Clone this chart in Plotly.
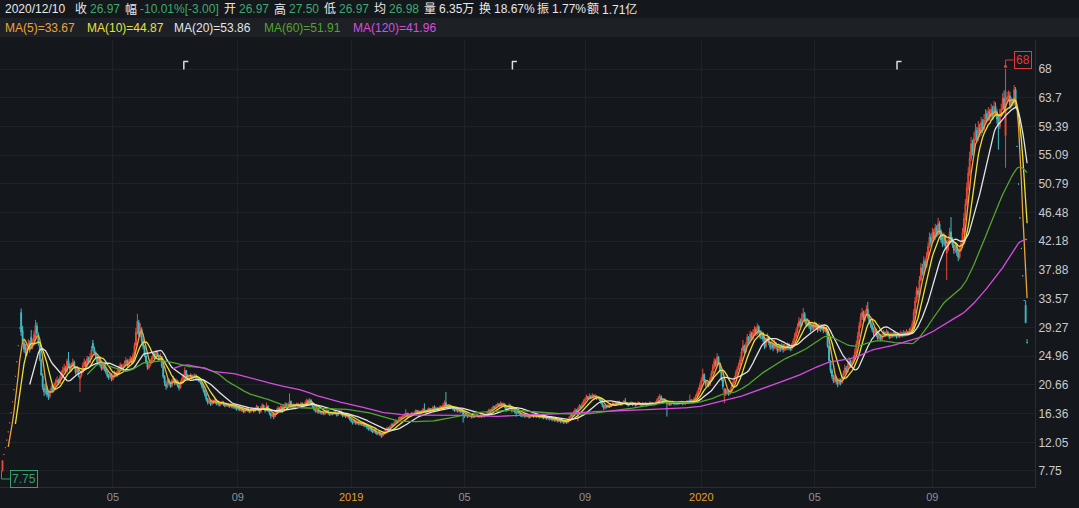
import pandas as pd
import plotly.graph_objects as go

# ---------------- data ----------------
close_2018 = [
    9.30, 10.23, 11.25, 12.38, 13.62, 14.98, 16.48, 18.13, 19.94, 21.93, 24.12, 26.53, 29.18, 28.60, 27.20, 26.00, 25.40, 26.30, 26.90, 25.90, 26.40, 27.00,
    28.2, 29.6, 28.4, 26.8, 24.5, 22.1, 20.3, 19.6, 20.4, 19.2, 18.9, 19.7, 20.2, 19.9, 20.7,
    21.1, 21.4, 20.9, 21.8, 22.4, 22.9, 23.2, 22.6, 24.2, 23.6, 22.9, 23.6, 24.1, 23.3, 22.5, 23.1, 22.1, 22.0, 22.6, 23.6, 24.1, 23.5,
    24.6, 24.0, 24.9, 25.9, 26.1, 25.4, 24.9, 24.0, 24.6, 23.6, 23.1, 23.8, 23.0, 22.6, 22.0, 21.8, 22.3, 21.5,
    21.9, 22.4, 22.0, 22.7, 23.1, 23.6, 23.0, 23.4, 23.9, 24.3, 23.6, 24.1, 24.6, 24.0, 25.1, 26.6, 28.6, 30.2, 28.3, 29.2, 27.2, 26.4,
    25.1, 24.1, 23.3, 23.6, 24.1, 24.7, 25.2, 24.8, 25.5, 25.0, 24.5, 25.0, 23.5, 21.9, 20.9, 20.4, 21.4, 21.0, 20.5, 21.2,
    21.6, 20.8, 21.3, 20.6, 20.2, 21.0, 21.5, 22.0, 22.8, 22.1, 21.5, 21.8, 22.1, 21.6, 21.9, 22.1, 21.5, 21.7, 21.2, 21.0, 20.4, 19.8,
    19.2, 18.5, 18.0, 18.3, 17.8, 18.2, 18.0, 18.4, 17.8, 18.0, 17.6, 17.9, 18.1, 17.7, 17.5, 17.8, 17.6, 17.4, 17.7, 17.3, 17.5, 17.2, 17.0,
    17.3, 16.9, 17.1, 16.8, 16.6, 16.9, 17.2, 16.8, 16.6, 16.9, 17.1, 16.7, 17.0, 17.4, 17.0, 16.6, 17.2, 17.6, 17.1,
    16.8, 17.5, 16.9, 16.4, 16.0, 16.3, 15.9, 16.4, 16.8, 17.2, 16.9, 17.4, 17.0, 17.5, 17.8, 17.3, 17.6, 18.2,
    17.6, 17.3, 17.7, 17.5, 17.8, 17.4, 17.6, 17.9, 17.5, 17.7, 18.0, 18.3, 18.1, 18.4, 18.0, 17.4, 17.0, 16.7, 16.9, 16.5, 16.7, 16.4,
    16.6, 16.3, 16.5, 16.8, 16.4, 16.2, 16.5, 16.3, 16.6, 16.4, 16.1, 16.4, 16.7, 16.3, 16.0, 16.2, 15.9, 16.1, 15.8, 15.5,
]
open_2018 = [
    7.75, 10.23, 11.25, 12.38, 13.62, 14.98, 16.48, 18.13, 19.94, 21.93, 24.12, 26.53, 29.18, 31.50, 28.80, 27.00, 26.20, 25.30, 26.20, 26.90, 27.80, 26.40,
    27.0, 28.0, 29.5, 28.2, 26.5, 24.4, 22.0, 20.2, 19.5, 20.3, 19.3, 18.9, 19.6, 20.3, 19.9,
    20.6, 21.0, 21.4, 20.9, 21.8, 22.4, 22.8, 23.2, 22.7, 24.3, 23.6, 22.9, 23.5, 24.1, 23.3, 22.5, 23.0, 21.6, 22.0, 22.6, 23.6, 24.1,
    23.5, 24.6, 24.0, 24.9, 26.9, 26.0, 25.4, 24.9, 24.0, 24.6, 23.6, 23.1, 23.8, 23.0, 22.6, 22.0, 21.8, 22.3,
    21.5, 21.9, 22.4, 22.0, 22.7, 23.1, 23.6, 23.0, 23.4, 23.9, 24.3, 23.6, 24.1, 24.6, 24.0, 25.1, 26.6, 28.5, 30.0, 28.3, 29.0, 27.2,
    26.4, 25.0, 24.1, 23.2, 23.6, 24.1, 24.7, 25.2, 24.8, 25.5, 25.0, 24.5, 24.9, 23.4, 21.9, 20.8, 20.4, 21.4, 21.0, 20.5,
    21.2, 21.5, 20.8, 21.3, 20.6, 20.2, 21.0, 21.5, 22.0, 22.8, 22.1, 21.5, 21.8, 22.1, 21.6, 21.9, 22.1, 21.5, 21.7, 21.2, 21.0, 20.4,
    19.8, 19.2, 18.5, 18.0, 18.3, 17.8, 18.2, 18.0, 18.4, 17.8, 18.0, 17.6, 17.9, 18.1, 17.7, 17.5, 17.8, 17.6, 17.4, 17.7, 17.3, 17.5, 17.2,
    17.0, 17.3, 16.9, 17.1, 16.8, 16.6, 16.9, 17.2, 16.8, 16.6, 16.9, 17.1, 16.7, 17.0, 17.4, 17.0, 16.6, 17.2, 17.6,
    17.1, 16.8, 17.5, 16.9, 16.4, 16.0, 16.3, 15.9, 16.4, 16.8, 17.2, 16.9, 17.4, 17.0, 17.4, 17.8, 17.3, 17.5,
    18.2, 17.6, 17.3, 17.7, 17.5, 17.8, 17.4, 17.6, 17.9, 17.5, 17.7, 18.0, 18.3, 18.1, 18.4, 18.0, 17.4, 17.0, 16.7, 16.9, 16.5, 16.7,
    16.4, 16.6, 16.3, 16.5, 16.8, 16.4, 16.2, 16.5, 16.3, 16.6, 16.4, 16.1, 16.4, 16.7, 16.3, 16.0, 16.2, 15.9, 16.1, 15.8,
]
high_2018 = [
    9.30, 10.23, 11.25, 12.38, 13.62, 14.98, 16.48, 18.13, 19.94, 21.93, 24.12, 26.53, 29.18, 32.10, 29.50, 27.60, 26.80, 26.90, 27.50, 27.30, 28.90, 27.60,
    28.8, 30.4, 30.0, 28.5, 26.8, 24.6, 22.4, 20.8, 20.9, 20.5, 19.6, 20.0, 20.6, 20.5, 21.0,
    21.5, 21.9, 21.6, 22.1, 22.8, 23.4, 23.8, 23.5, 24.6, 25.6, 23.9, 24.0, 24.6, 24.3, 23.5, 23.5, 23.2, 22.2, 23.0, 24.0, 24.6, 24.3,
    25.0, 24.9, 25.4, 26.5, 27.4, 26.4, 25.7, 25.1, 25.0, 24.8, 23.9, 24.2, 24.0, 23.3, 22.8, 22.3, 22.6, 22.4,
    22.2, 22.8, 22.6, 23.0, 23.5, 24.0, 23.8, 23.8, 24.3, 24.8, 24.5, 24.5, 25.0, 24.8, 25.5, 27.0, 29.2, 31.3, 30.4, 29.9, 29.3, 27.6,
    26.6, 25.3, 24.3, 24.0, 24.5, 25.0, 25.6, 25.5, 25.9, 25.8, 25.2, 25.4, 25.0, 23.6, 22.1, 21.2, 21.7, 21.6, 21.2, 21.5,
    22.0, 21.7, 21.6, 21.4, 20.9, 21.3, 21.8, 22.3, 23.3, 22.9, 22.3, 22.1, 22.4, 22.2, 22.2, 22.4, 22.2, 22.0, 21.8, 21.4, 21.1, 20.5,
    20.0, 19.4, 18.7, 18.6, 18.4, 18.5, 18.4, 18.7, 18.5, 18.2, 18.1, 18.1, 18.3, 18.2, 17.9, 18.0, 17.9, 17.7, 17.9, 17.8, 17.7, 17.6, 17.4,
    17.5, 17.4, 17.3, 17.2, 17.0, 17.1, 17.4, 17.3, 16.9, 17.1, 17.3, 17.2, 17.3, 17.7, 17.5, 17.1, 17.5, 17.9, 17.7,
    17.2, 18.0, 17.6, 17.0, 16.5, 16.6, 16.4, 16.7, 17.1, 17.5, 17.3, 17.7, 17.5, 17.8, 18.1, 17.9, 18.0, 19.4,
    18.3, 17.8, 17.9, 17.8, 18.0, 17.9, 17.8, 18.1, 18.0, 17.9, 18.3, 18.6, 18.5, 18.7, 18.5, 18.1, 17.5, 17.2, 17.1, 17.0, 16.9, 16.8,
    16.8, 16.7, 16.7, 17.0, 16.9, 16.5, 16.7, 16.6, 16.8, 16.7, 16.5, 16.6, 16.9, 16.8, 16.4, 16.4, 16.3, 16.3, 16.2, 15.9,
]
low_2018 = [
    7.75, 10.23, 11.25, 12.38, 13.62, 14.98, 16.48, 18.13, 19.94, 21.93, 24.12, 26.53, 29.18, 28.00, 26.80, 25.50, 24.90, 25.00, 25.80, 25.50, 26.00, 26.00,
    26.8, 27.6, 28.0, 26.5, 24.2, 22.1, 19.9, 19.0, 19.2, 18.8, 18.4, 18.6, 19.4, 19.6, 19.7,
    20.4, 20.8, 20.6, 20.8, 21.5, 22.1, 22.6, 22.3, 22.5, 23.3, 22.6, 22.7, 23.3, 23.0, 22.2, 22.3, 21.8, 19.6, 21.8, 22.4, 23.3, 23.2,
    23.4, 23.7, 23.9, 24.7, 25.7, 25.1, 24.5, 23.7, 23.8, 23.3, 22.8, 22.9, 22.7, 22.3, 21.7, 21.4, 21.6, 21.2,
    21.3, 21.7, 21.8, 21.9, 22.5, 22.9, 22.8, 22.9, 23.2, 23.7, 23.3, 23.4, 23.9, 23.8, 23.9, 25.0, 26.4, 28.2, 27.9, 27.8, 26.9, 26.0,
    24.8, 23.8, 22.9, 23.0, 23.4, 23.9, 24.5, 24.5, 24.6, 24.8, 24.2, 24.3, 23.2, 21.6, 20.5, 19.9, 20.2, 20.7, 20.2, 20.3,
    21.0, 20.6, 20.6, 20.3, 19.8, 20.1, 20.8, 21.3, 21.8, 21.8, 21.3, 21.3, 21.6, 21.4, 21.4, 21.7, 21.3, 21.3, 21.0, 20.7, 20.1, 19.5,
    18.9, 18.2, 17.7, 17.8, 17.5, 17.6, 17.8, 17.9, 17.6, 17.6, 17.4, 17.5, 17.7, 17.5, 17.3, 17.4, 17.4, 17.2, 17.3, 17.1, 17.1, 17.0, 16.8,
    16.9, 16.7, 16.7, 16.6, 16.4, 16.5, 16.8, 16.6, 16.4, 16.5, 16.8, 16.5, 16.6, 16.9, 16.8, 16.3, 16.5, 17.0, 16.9,
    16.5, 16.7, 16.6, 16.1, 15.6, 15.8, 15.5, 15.8, 16.3, 16.7, 16.7, 16.8, 16.8, 16.9, 17.2, 17.1, 17.2, 17.4,
    17.4, 17.1, 17.2, 17.3, 17.4, 17.2, 17.3, 17.5, 17.3, 17.4, 17.6, 17.9, 17.9, 18.0, 17.8, 17.2, 16.8, 16.5, 16.5, 16.3, 16.4, 16.2,
    16.2, 16.1, 16.2, 16.4, 16.2, 16.0, 16.1, 16.1, 16.2, 16.2, 15.9, 16.0, 16.3, 16.1, 15.8, 15.9, 15.7, 15.8, 15.6, 15.3,
]

close_2019 = [
    15.2, 15.0, 15.3, 14.9, 15.1, 14.8, 15.0, 14.7, 14.9, 14.5, 14.6, 14.3, 14.0, 14.2, 13.8, 13.6, 13.9, 13.5, 13.3, 13.6, 13.2, 13.0,
    13.4, 13.6, 13.9, 14.2, 14.0, 14.4, 14.7, 14.6, 15.0, 15.3, 15.1, 15.5, 15.8, 15.6, 16.0,
    16.2, 16.4, 16.0, 16.3, 16.1, 16.4, 16.2, 16.5, 16.8, 16.5, 16.7, 16.4, 16.7, 17.0, 16.8, 16.6, 16.9, 17.1, 16.8, 17.0, 17.3,
    17.0, 17.2, 16.9, 17.1, 17.4, 17.2, 17.6, 18.0, 17.5, 17.3, 17.6, 17.2, 17.4, 17.0, 16.8, 17.0, 16.7, 16.9, 16.6, 16.8, 16.2,
    16.0, 16.2, 15.9, 16.1, 16.0, 15.8, 16.1, 15.9, 16.2, 16.0, 15.9, 16.1, 15.9, 16.2, 16.0, 16.3, 16.6, 16.9, 16.7, 17.1,
    17.4, 17.2, 17.6, 17.8, 17.5, 17.9, 17.6, 17.8, 17.3, 16.9, 17.3, 17.6, 17.2, 16.8, 17.0, 16.6, 16.4, 16.7, 16.4,
    16.1, 16.0, 16.2, 15.9, 16.1, 16.0, 15.8, 16.0, 16.2, 15.9, 16.1, 15.9, 16.0, 15.8, 16.0, 15.8, 15.7, 15.9, 15.6, 15.8, 15.5, 15.7, 15.4,
    15.6, 15.3, 15.5, 15.2, 15.4, 15.1, 15.3, 15.0, 15.2, 15.0, 15.4, 15.8, 16.2, 16.0, 16.5, 16.9, 16.6, 17.1, 17.5, 17.3, 17.8, 18.2,
    18.5, 18.9, 18.6, 19.0, 18.7, 19.1, 18.8, 19.0, 18.6, 18.8, 18.4, 18.0, 17.6, 17.2, 17.5, 17.3, 17.6, 17.4, 17.7, 17.9,
    17.7, 18.0, 17.8, 18.1, 17.9, 17.7, 17.9, 18.2, 18.0, 17.8, 17.6, 17.8, 18.0, 17.7, 17.9, 17.6, 17.8, 18.0,
    17.8, 17.6, 17.9, 17.7, 17.9, 17.6, 17.8, 18.0, 17.7, 17.9, 17.7, 18.0, 18.3, 18.7, 18.9, 18.5, 18.2, 18.4, 18.1, 17.8, 17.9,
    17.7, 17.9, 18.1, 17.8, 18.0, 17.8, 18.0, 17.9, 18.1, 17.8, 18.0, 17.9, 18.2, 18.0, 18.4, 18.1, 18.3, 18.6, 18.9, 19.4, 20.0, 20.6,
]
open_2019 = [
    15.5, 15.2, 15.0, 15.3, 14.9, 15.1, 14.8, 15.0, 14.7, 14.9, 14.5, 14.6, 14.3, 14.0, 14.2, 13.8, 13.6, 13.9, 13.5, 13.3, 13.6, 13.3,
    13.0, 13.4, 13.6, 13.9, 14.2, 14.0, 14.4, 14.7, 14.6, 15.0, 15.3, 15.1, 15.5, 15.8, 15.6,
    16.0, 16.1, 16.4, 16.0, 16.3, 16.1, 16.4, 16.2, 16.5, 16.8, 16.5, 16.7, 16.4, 16.7, 17.0, 16.8, 16.6, 16.9, 17.1, 16.8, 17.0,
    17.3, 17.0, 17.2, 16.9, 17.1, 17.4, 17.2, 17.6, 18.0, 17.5, 17.3, 17.6, 17.2, 17.4, 17.0, 16.8, 17.0, 16.7, 16.9, 16.6, 16.8,
    16.2, 16.0, 16.2, 15.9, 16.1, 16.0, 15.8, 16.1, 15.9, 16.2, 16.0, 15.9, 16.1, 15.9, 16.2, 16.0, 16.3, 16.6, 16.9, 16.7,
    17.1, 17.4, 17.2, 17.6, 17.8, 17.5, 17.9, 17.6, 17.8, 17.3, 16.9, 17.3, 17.6, 17.2, 16.8, 17.0, 16.6, 16.4, 16.7,
    16.4, 16.1, 16.0, 16.2, 15.9, 16.1, 16.0, 15.8, 16.0, 16.2, 15.9, 16.1, 15.9, 16.0, 15.8, 16.0, 15.8, 15.7, 15.9, 15.6, 15.8, 15.5, 15.7,
    15.4, 15.6, 15.3, 15.5, 15.2, 15.4, 15.1, 15.3, 15.0, 15.2, 15.0, 15.4, 15.8, 16.2, 16.0, 16.5, 16.9, 16.6, 17.1, 17.5, 17.3, 17.8,
    18.2, 18.5, 18.9, 18.6, 19.0, 18.7, 19.1, 18.8, 19.0, 18.6, 18.8, 18.4, 18.0, 17.6, 17.2, 17.5, 17.3, 17.6, 17.4, 17.7,
    17.9, 17.7, 18.0, 17.8, 18.1, 17.9, 17.7, 17.9, 18.2, 18.0, 17.8, 17.6, 17.8, 18.0, 17.7, 17.9, 17.6, 17.8,
    18.0, 17.8, 17.6, 17.9, 17.7, 17.9, 17.6, 17.8, 18.0, 17.7, 17.9, 17.7, 18.0, 18.3, 18.7, 18.9, 18.5, 18.2, 18.4, 18.1, 17.8,
    17.9, 17.7, 17.9, 18.1, 17.8, 18.0, 17.8, 18.0, 17.9, 18.1, 17.8, 18.0, 17.9, 18.2, 18.0, 18.4, 18.1, 18.3, 18.6, 18.9, 19.4, 20.0,
]
high_2019 = [
    15.6, 15.3, 15.5, 15.4, 15.3, 15.2, 15.2, 15.1, 15.1, 15.0, 14.8, 14.7, 14.4, 14.4, 14.3, 13.9, 14.1, 14.0, 13.6, 13.8, 13.7, 13.4,
    13.6, 13.8, 14.1, 14.4, 14.3, 14.6, 14.9, 14.9, 15.2, 15.5, 15.4, 15.8, 16.0, 15.9, 16.3,
    16.4, 17.0, 16.5, 16.5, 16.4, 16.6, 16.5, 16.7, 17.0, 16.9, 16.9, 16.8, 16.9, 17.2, 17.9, 16.9, 17.1, 17.3, 17.2, 17.2, 17.5,
    17.6, 17.4, 17.3, 17.3, 17.6, 17.5, 17.9, 18.3, 19.6, 17.7, 17.8, 17.7, 17.6, 17.5, 17.1, 17.2, 17.1, 17.1, 17.0, 17.0, 16.9,
    16.3, 16.4, 16.3, 16.3, 16.2, 16.1, 16.3, 16.2, 16.4, 16.3, 16.1, 16.3, 16.2, 16.4, 16.3, 16.5, 16.8, 17.1, 17.0, 17.3,
    17.6, 17.5, 17.8, 18.0, 17.9, 18.2, 18.0, 18.0, 17.9, 17.4, 17.5, 17.9, 17.7, 17.3, 17.2, 17.1, 16.7, 16.9, 16.8,
    16.5, 16.2, 16.3, 16.3, 16.3, 16.2, 16.1, 16.2, 16.4, 16.3, 16.3, 16.2, 16.2, 16.1, 16.2, 16.1, 15.9, 16.1, 16.0, 16.0, 15.9, 15.9, 15.8,
    15.8, 15.7, 15.7, 15.6, 15.6, 15.5, 15.5, 15.4, 15.4, 15.3, 15.6, 16.0, 16.5, 16.3, 16.8, 17.2, 17.0, 17.3, 17.8, 17.6, 18.1, 18.5,
    18.8, 19.2, 19.0, 19.4, 19.1, 19.4, 19.2, 19.3, 19.1, 19.0, 18.9, 18.5, 18.1, 17.7, 17.7, 17.6, 17.8, 17.7, 17.9, 18.1,
    18.0, 18.2, 18.1, 18.3, 18.2, 18.0, 18.1, 18.4, 18.7, 18.1, 17.9, 18.0, 18.2, 18.1, 18.1, 18.0, 18.0, 18.2,
    18.1, 17.9, 18.1, 18.0, 18.1, 18.0, 18.0, 18.2, 18.1, 18.1, 18.0, 18.2, 18.6, 19.0, 19.3, 19.1, 18.6, 18.6, 18.5, 18.2, 18.1,
    18.0, 18.1, 18.3, 18.2, 18.2, 18.1, 18.2, 18.1, 18.3, 18.2, 18.2, 18.1, 18.4, 18.3, 19.2, 18.5, 18.5, 18.8, 19.2, 19.7, 20.3, 21.0,
]
low_2019 = [
    15.0, 14.7, 14.9, 14.7, 14.7, 14.6, 14.6, 14.5, 14.5, 14.3, 14.3, 14.0, 13.8, 13.8, 13.6, 13.4, 13.5, 13.3, 13.1, 13.2, 13.0, 12.7,
    12.9, 13.2, 13.5, 13.8, 13.8, 13.9, 14.3, 14.4, 14.5, 14.9, 14.9, 15.0, 15.4, 15.4, 15.5,
    15.9, 16.0, 15.8, 15.9, 15.9, 16.0, 16.0, 16.1, 16.4, 16.3, 16.4, 16.2, 16.3, 16.6, 16.6, 16.4, 16.5, 16.8, 16.6, 16.7, 16.9,
    16.8, 16.9, 16.7, 16.8, 17.0, 17.0, 17.1, 17.5, 17.3, 17.1, 17.2, 17.0, 17.1, 16.8, 16.6, 16.7, 16.5, 16.6, 16.4, 16.5, 15.0,
    15.7, 15.9, 15.7, 15.8, 15.8, 15.6, 15.7, 15.7, 15.8, 15.8, 15.7, 15.8, 15.7, 15.8, 15.8, 15.9, 16.2, 16.5, 16.5, 16.6,
    17.0, 17.0, 17.1, 17.5, 17.3, 17.4, 17.4, 17.5, 17.1, 16.6, 16.8, 17.2, 17.0, 16.5, 16.6, 16.4, 15.9, 16.3, 16.2,
    15.9, 15.8, 15.9, 15.7, 15.8, 15.8, 15.6, 15.7, 15.9, 15.7, 15.8, 15.7, 15.8, 15.6, 15.7, 15.6, 15.5, 15.6, 15.4, 15.5, 15.3, 15.4, 15.2,
    15.3, 15.1, 15.2, 15.0, 15.1, 14.9, 15.0, 14.8, 14.9, 14.8, 14.9, 15.3, 15.7, 15.8, 15.9, 16.4, 16.4, 15.2, 17.0, 17.1, 17.2, 17.7,
    18.0, 18.4, 18.4, 18.5, 18.5, 18.6, 18.6, 18.7, 18.4, 18.5, 18.2, 17.8, 17.3, 16.9, 17.0, 17.1, 17.2, 17.2, 17.3, 17.6,
    17.5, 17.6, 17.6, 17.7, 17.7, 17.5, 17.6, 17.8, 17.8, 17.6, 17.4, 17.5, 17.7, 17.5, 17.6, 17.4, 17.5, 17.7,
    17.6, 17.4, 17.5, 17.5, 17.6, 17.4, 17.5, 17.7, 17.5, 17.6, 17.5, 17.6, 17.9, 18.2, 18.5, 18.3, 18.0, 18.1, 17.9, 15.9, 17.6,
    17.5, 17.6, 17.8, 17.6, 17.7, 17.6, 17.7, 17.7, 17.8, 17.6, 17.7, 17.7, 17.8, 17.8, 17.9, 17.9, 18.0, 18.2, 18.5, 18.8, 19.3, 19.9,
]

close_2020 = [
    21.4, 22.2, 21.3, 20.7, 21.0, 20.6, 21.5, 22.4, 23.4, 24.2, 23.6, 24.8, 23.9, 22.8, 21.6, 20.4,
    20.0, 19.4, 19.7, 19.3, 19.8, 20.4, 21.0, 21.7, 22.4, 23.0, 23.6, 24.4, 25.6, 26.5, 25.6, 26.7, 27.8, 27.2, 28.3, 27.6,
    28.5, 29.0, 28.3, 29.4, 28.6, 27.8, 28.4, 27.5, 26.4, 27.2, 27.8, 27.0, 26.3, 26.8, 26.2, 26.9, 26.4, 25.8, 26.5, 26.0, 26.6, 25.9,
    26.4, 26.1, 26.7, 26.2, 26.0, 26.5, 27.2, 27.9, 28.6, 29.4, 30.2, 29.6, 30.6, 31.3, 30.4, 29.7, 30.2, 29.5, 29.0, 29.6, 29.2,
    29.8, 29.3, 28.9, 29.5, 29.0, 29.4, 28.8, 29.2, 28.6, 26.5, 24.3, 22.8, 22.0, 21.3, 21.8, 21.1, 20.8, 21.4,
    21.0, 21.6, 22.4, 23.2, 22.6, 23.5, 24.2, 23.6, 24.0, 24.6, 25.6, 26.8, 28.0, 29.5, 30.8, 31.5, 30.4, 31.2, 32.0, 31.0,
    30.2, 29.6, 29.0, 28.4, 28.9, 28.2, 27.6, 28.1, 27.5, 28.0, 28.5, 28.1, 28.6, 28.2, 27.8, 28.3, 28.0, 28.4, 28.1, 27.9, 28.3, 28.0, 28.4,
    28.1, 28.5, 28.2, 28.6, 28.3, 28.8, 29.0, 29.8, 31.5, 33.2, 34.8, 34.2, 36.4, 38.2, 37.4, 39.2, 38.4, 40.0, 41.4, 42.8, 42.0,
    43.5, 42.6, 44.2, 43.2, 44.8, 43.6, 42.4, 41.8, 42.9, 41.5, 41.0, 42.3, 43.5, 42.4, 41.6, 40.8, 41.5, 40.6, 39.8, 40.9, 41.8, 43.5,
    45.6, 47.8, 50.2, 52.4, 54.6, 56.8, 55.6, 57.6, 58.8, 57.5, 59.2, 58.4, 60.0, 59.0, 60.4, 61.3,
    60.5, 61.6, 60.8, 62.0, 61.0, 62.4, 61.6, 60.5, 59.4, 61.2, 62.0, 63.6, 62.0, 63.4, 63.8, 64.0, 62.6, 63.2, 62.9, 64.9, 62.67,
    56.4, 50.76, 45.68, 41.11, 37.0, 33.3, 29.97, 26.97,
]
open_2020 = [
    20.6, 21.3, 22.2, 21.3, 20.7, 21.0, 20.6, 21.5, 22.4, 23.3, 24.2, 23.7, 24.8, 23.9, 22.8, 21.5,
    19.4, 20.0, 19.4, 19.7, 19.3, 19.8, 20.4, 21.0, 21.7, 22.4, 23.0, 23.6, 24.4, 25.8, 26.5, 25.6, 26.7, 27.8, 27.2, 28.3,
    27.6, 28.5, 29.0, 28.3, 29.4, 28.6, 27.8, 28.4, 27.4, 26.4, 27.2, 27.8, 27.0, 26.3, 26.8, 26.2, 26.9, 26.4, 25.8, 26.5, 26.0, 26.6,
    25.9, 26.4, 26.1, 26.7, 26.2, 26.0, 26.5, 27.2, 27.9, 28.6, 29.4, 30.2, 29.6, 30.6, 31.3, 30.4, 29.7, 30.2, 29.5, 29.0, 29.6,
    29.2, 29.8, 29.3, 28.9, 29.5, 29.0, 29.4, 28.8, 29.2, 28.5, 26.4, 24.2, 22.8, 22.0, 21.3, 21.8, 21.1, 20.8,
    21.4, 21.0, 21.6, 22.4, 23.2, 22.6, 23.5, 24.2, 23.6, 24.0, 24.6, 25.6, 26.8, 28.0, 29.5, 30.8, 31.5, 30.4, 31.2, 32.0,
    31.0, 30.2, 29.6, 29.0, 28.4, 28.9, 28.2, 27.6, 28.1, 27.5, 28.0, 28.5, 28.1, 28.6, 28.2, 27.8, 28.3, 28.0, 28.4, 28.1, 27.9, 28.3, 28.0,
    28.4, 28.1, 28.5, 28.2, 28.6, 28.3, 28.8, 29.0, 29.8, 31.5, 33.2, 34.8, 34.2, 36.4, 38.2, 37.4, 39.2, 38.4, 40.0, 41.4, 42.8,
    42.0, 43.5, 42.6, 44.2, 43.2, 44.8, 43.6, 42.4, 41.8, 42.9, 40.4, 41.0, 42.3, 43.6, 42.4, 41.6, 40.8, 41.5, 40.6, 39.8, 40.9, 41.8,
    43.5, 45.6, 47.8, 50.2, 52.4, 54.6, 56.8, 55.6, 57.6, 58.8, 57.5, 59.2, 58.4, 60.0, 59.0, 60.4,
    61.3, 60.5, 61.6, 60.8, 62.0, 61.0, 62.4, 61.6, 60.5, 59.4, 61.2, 62.0, 63.6, 58.0, 63.4, 63.8, 64.0, 62.6, 63.2, 62.9, 64.9,
    56.4, 50.76, 45.68, 41.11, 37.0, 33.3, 32.6, 26.97,
]
high_2020 = [
    21.8, 23.1, 22.4, 21.5, 21.3, 21.1, 21.8, 22.8, 23.8, 24.7, 24.5, 25.4, 25.0, 24.0, 22.9, 21.6,
    20.2, 20.1, 20.0, 19.8, 20.1, 20.7, 21.3, 22.0, 22.8, 23.4, 24.0, 24.9, 26.2, 27.4, 26.7, 27.1, 28.3, 28.0, 28.8, 28.6,
    29.0, 29.5, 29.3, 29.9, 29.6, 28.9, 28.8, 28.6, 27.6, 27.6, 28.4, 28.0, 27.2, 27.3, 27.0, 27.4, 27.1, 26.6, 26.9, 26.7, 27.0, 26.8,
    26.8, 26.6, 27.0, 26.9, 26.4, 26.9, 27.6, 28.4, 29.1, 29.9, 30.8, 30.6, 31.4, 32.2, 31.6, 30.7, 30.6, 30.4, 29.8, 30.0, 29.9,
    30.2, 30.0, 29.5, 29.9, 29.7, 29.8, 29.6, 29.6, 29.4, 28.7, 26.6, 24.4, 23.1, 22.2, 22.2, 22.0, 21.4, 21.7,
    21.6, 21.9, 22.8, 23.7, 23.5, 24.0, 24.8, 24.5, 24.4, 25.1, 26.1, 27.3, 28.6, 30.1, 31.4, 32.2, 31.8, 31.8, 32.6, 33.1,
    31.3, 30.5, 29.9, 29.3, 29.3, 29.1, 28.4, 28.5, 28.3, 28.4, 28.9, 28.7, 29.0, 28.8, 28.4, 28.6, 28.5, 28.8, 28.6, 28.3, 28.6, 28.5, 28.8,
    28.6, 28.9, 28.7, 29.0, 28.8, 29.2, 29.4, 30.3, 32.0, 33.8, 35.4, 35.2, 37.0, 38.9, 38.8, 39.9, 39.6, 40.6, 42.0, 43.5, 43.3,
    44.2, 44.0, 44.8, 44.6, 45.7, 45.2, 44.0, 43.0, 43.5, 43.1, 41.8, 42.9, 44.2, 45.8, 42.8, 42.0, 42.0, 41.8, 41.0, 41.4, 42.4, 44.2,
    46.4, 48.5, 51.0, 53.3, 55.6, 57.8, 57.4, 58.5, 59.8, 59.3, 60.2, 59.8, 60.8, 60.5, 61.2, 62.0,
    61.8, 62.3, 62.0, 62.8, 62.5, 63.2, 63.0, 62.0, 61.0, 62.0, 62.8, 64.4, 64.8, 68.0, 64.6, 64.8, 64.6, 63.8, 63.6, 65.6, 65.3,
    56.4, 50.76, 45.68, 41.11, 37.0, 33.3, 33.3, 27.50,
]
low_2020 = [
    20.4, 21.1, 21.0, 20.4, 20.5, 20.3, 20.5, 21.3, 22.2, 23.0, 23.3, 23.5, 23.6, 22.5, 21.2, 20.0,
    17.9, 19.0, 19.2, 19.0, 19.2, 19.7, 20.3, 20.9, 21.6, 22.2, 22.9, 23.5, 24.2, 25.4, 25.2, 25.4, 26.5, 26.8, 27.0, 27.3,
    27.4, 28.2, 28.0, 28.1, 28.3, 27.5, 27.5, 27.1, 26.0, 26.2, 27.0, 26.6, 25.9, 26.0, 25.7, 26.0, 26.0, 25.4, 25.6, 25.6, 25.8, 25.5,
    25.7, 25.8, 25.9, 25.9, 25.7, 25.8, 26.3, 27.0, 27.7, 28.4, 29.2, 29.2, 29.4, 30.3, 30.0, 29.3, 29.4, 29.1, 28.6, 28.8, 28.8,
    29.0, 28.9, 28.5, 28.7, 28.6, 28.8, 28.4, 28.6, 28.2, 26.2, 24.0, 22.4, 21.6, 20.9, 21.0, 20.7, 20.3, 20.6,
    20.6, 20.8, 21.4, 22.2, 22.2, 22.4, 23.3, 23.2, 23.3, 23.8, 24.4, 25.4, 26.6, 27.8, 29.2, 30.4, 30.0, 30.1, 30.9, 30.6,
    29.8, 29.2, 28.6, 28.0, 28.1, 27.8, 27.2, 27.4, 27.2, 27.3, 27.8, 27.8, 27.9, 27.9, 27.5, 27.6, 27.7, 27.8, 27.8, 27.6, 27.7, 27.7, 27.8,
    27.8, 27.9, 27.9, 28.0, 28.0, 28.1, 28.5, 28.8, 29.6, 31.3, 33.0, 33.8, 34.0, 36.2, 37.0, 37.2, 38.0, 38.2, 39.8, 41.2, 41.5,
    41.8, 42.2, 42.4, 42.8, 43.0, 43.2, 42.0, 41.3, 41.5, 41.0, 36.4, 40.7, 42.0, 42.0, 41.2, 40.3, 40.4, 40.0, 39.2, 39.5, 40.6, 41.6,
    43.2, 45.3, 47.5, 49.8, 52.0, 54.2, 55.0, 55.2, 57.2, 57.0, 57.2, 57.8, 58.0, 58.4, 58.7, 60.0,
    60.0, 60.2, 60.3, 60.5, 60.5, 60.8, 61.0, 59.8, 55.9, 59.0, 60.9, 61.8, 61.5, 53.2, 63.0, 63.2, 62.0, 62.2, 62.4, 62.5, 62.3,
    56.4, 50.76, 45.68, 41.11, 37.0, 33.3, 29.97, 26.97,
]

# weekday market closures (SSE/SZSE) in the period
holidays = [
    "2018-01-01", "2018-02-15", "2018-02-16", "2018-02-19", "2018-02-20", "2018-02-21",
    "2018-04-05", "2018-04-06", "2018-04-30", "2018-05-01", "2018-06-18", "2018-09-24",
    "2018-10-01", "2018-10-02", "2018-10-03", "2018-10-04", "2018-10-05", "2018-12-31",
    "2019-01-01", "2019-02-04", "2019-02-05", "2019-02-06", "2019-02-07", "2019-02-08",
    "2019-04-05", "2019-05-01", "2019-05-02", "2019-05-03", "2019-06-07", "2019-09-13",
    "2019-10-01", "2019-10-02", "2019-10-03", "2019-10-04", "2019-10-07",
    "2020-01-01", "2020-01-24", "2020-01-27", "2020-01-28", "2020-01-29", "2020-01-30", "2020-01-31",
    "2020-04-06", "2020-05-01", "2020-05-04", "2020-05-05", "2020-06-25", "2020-06-26",
    "2020-10-01", "2020-10-02", "2020-10-05", "2020-10-06", "2020-10-07", "2020-10-08",
]
tick_months = ["2018-05", "2018-09", "2019-01", "2019-05", "2019-09", "2020-01", "2020-05", "2020-09"]
tick_labels = ["05", "09", "2019", "05", "09", "2020", "05", "09"]
y_ticks = [68, 63.7, 59.39, 55.09, 50.79, 46.48, 42.18, 37.88, 33.57, 29.27, 24.96, 20.66, 16.36, 12.05, 7.75]
event_dates = ["2018-07-11", "2019-06-21", "2020-07-28"]
ma_windows = [5, 10, 20, 60, 120]
ma_names = ["MA(5)=33.67", "MA(10)=44.87", "MA(20)=53.86", "MA(60)=51.91", "MA(120)=41.96"]
header_items = [
    ("2020/12/10", "w"), ("收", "w"), ("26.97", "g"), ("幅", "w"), ("-10.01%[-3.00]", "g"),
    ("开", "w"), ("26.97", "g"), ("高", "w"), ("27.50", "g"), ("低", "w"), ("26.97", "g"),
    ("均", "w"), ("26.98", "g"), ("量", "w"), ("6.35万", "w"), ("换", "w"), ("18.67%", "w"),
    ("振", "w"), ("1.77%", "w"), ("额", "w"), ("1.71亿", "w"),
]

# ---------------- build ----------------
opens = open_2018 + open_2019 + open_2020
highs = high_2018 + high_2019 + high_2020
lows = low_2018 + low_2019 + low_2020
closes = close_2018 + close_2019 + close_2020
N = min(len(opens), len(highs), len(lows), len(closes))
opens, highs, lows, closes = opens[:N], highs[:N], lows[:N], closes[:N]

days = [d for d in pd.bdate_range("2018-01-01", "2020-12-10") if d.strftime("%Y-%m-%d") not in holidays]
day_str = [d.strftime("%Y-%m-%d") for d in days][:N]
idx = list(range(N))

def first_index(prefix):
    for i, s in enumerate(day_str):
        if s.startswith(prefix):
            return i
    return None

tickvals, ticktext = [], []
for m, lab in zip(tick_months, tick_labels):
    i = first_index(m)
    if i is not None:
        tickvals.append(i)
        ticktext.append(lab if len(lab) == 2 else f"<span style='color:#e2a02c'>{lab}</span>")

BG = "#14171c"
RED = "#ee4a3a"
CYAN = "#3fbcc6"
GREEN_TXT = "#3eaa6c"
MA_COLORS = ["#eca53a", "#e8e23c", "#e4e4e4", "#52a52c", "#d84ce2"]
FONT = "Liberation Sans, Arial, Noto Sans CJK SC, sans-serif"

fig = go.Figure()
fig.add_trace(go.Candlestick(
    x=idx, open=opens, high=highs, low=lows, close=closes,
    increasing=dict(line=dict(color=RED, width=1), fillcolor=RED),
    decreasing=dict(line=dict(color=CYAN, width=1), fillcolor=CYAN),
    whiskerwidth=0, hoverinfo="skip", showlegend=False,
))
cs = pd.Series(closes)
for w, col in zip(ma_windows, MA_COLORS):
    ma = cs.rolling(w).mean()
    fig.add_trace(go.Scatter(x=idx, y=ma, mode="lines", line=dict(color=col, width=1.3),
                             hoverinfo="skip", showlegend=False))

# plot geometry (pixels)
FW, FH = 1079, 508
W, T, B = 1035, 40, 487
H = B - T
def px(x):
    return x / W
def py(y):
    return (B - y) / H

ann = []
shapes = []
# header row background band
shapes.append(dict(type="rect", xref="paper", yref="paper", x0=0, x1=FW / W, y0=py(37), y1=py(18),
                   fillcolor="#1d2025", line=dict(width=0), layer="below"))

row1_x = [3, 73, 88, 123, 138, 222, 237, 272, 287, 322, 337, 372, 387, 422, 437, 477, 492, 535, 550, 585, 600]
for (txt, c), x in zip(header_items, row1_x):
    ann.append(dict(text=txt, xref="paper", yref="paper", x=px(x), y=py(9), xanchor="left", yanchor="middle",
                    showarrow=False, font=dict(family=FONT, size=12, color=GREEN_TXT if c == "g" else "#e8e8e8")))
row2_x = [3, 85, 172, 262, 351]
for txt, col, x in zip(ma_names, MA_COLORS, row2_x):
    ann.append(dict(text=txt, xref="paper", yref="paper", x=px(x), y=py(28), xanchor="left", yanchor="middle",
                    showarrow=False, font=dict(family=FONT, size=12, color=col)))

# max / min labels
i_max = max(range(N), key=lambda i: highs[i])
i_min = min(range(N), key=lambda i: lows[i])
v_max, v_min = highs[i_max], lows[i_min]
MAXC = "#e03a3a"
MINC = "#3a9e6c"
shapes.append(dict(type="path", xref="x", yref="y", xsizemode="pixel", ysizemode="pixel",
                   xanchor=i_max, yanchor=v_max, path="M 0,2 L 0,9 L 8,9", line=dict(color=MAXC, width=1)))
shapes.append(dict(type="circle", xref="x", yref="y", xsizemode="pixel", ysizemode="pixel",
                   xanchor=i_max, yanchor=v_max, x0=-1.6, x1=1.6, y0=1, y1=4.2, fillcolor=MAXC, line=dict(width=0)))
ann.append(dict(text=f"{v_max:g}", x=i_max, y=v_max, xref="x", yref="y", showarrow=False,
                xshift=17, yshift=9, bordercolor=MAXC, borderwidth=1, borderpad=1, bgcolor=BG,
                font=dict(family=FONT, size=12, color=MAXC)))
shapes.append(dict(type="path", xref="x", yref="y", xsizemode="pixel", ysizemode="pixel",
                   xanchor=i_min, yanchor=v_min, path="M -1,0 L -1,-8 L 8,-8", line=dict(color=MINC, width=1)))
ann.append(dict(text=f"{v_min:g}", x=i_min, y=v_min, xref="x", yref="y", showarrow=False,
                xshift=21, yshift=-8, bordercolor=MINC, borderwidth=1, borderpad=1, bgcolor=BG,
                font=dict(family=FONT, size=12, color=MINC)))

# event corner markers
for d in event_dates:
    i = first_index(d)
    if i is not None:
        shapes.append(dict(type="path", xref="x", yref="paper", xsizemode="pixel", ysizemode="pixel",
                           xanchor=i, yanchor=py(61.5), path="M 0.5,0 L 0.5,-8 M 0,0 L 5,0",
                           line=dict(color="#dcdcdc", width=1.5)))

fig.update_layout(
    width=FW, height=FH,
    margin=dict(l=0, r=FW - W, t=T, b=FH - B),
    paper_bgcolor=BG, plot_bgcolor=BG,
    showlegend=False, boxgap=0.15,
    annotations=ann, shapes=shapes,
    font=dict(family=FONT),
    xaxis=dict(range=[-2.5 / 1.435, (W - 2.5) / 1.435], tickvals=tickvals, ticktext=ticktext,
               showgrid=True, gridcolor="#1f2227", gridwidth=1, zeroline=False,
               showline=True, linecolor="#2a2d33", ticks="", rangeslider=dict(visible=False),
               tickfont=dict(family=FONT, size=11, color="#8e9196"), fixedrange=True),
    yaxis=dict(range=[5.35, 72.35], side="right", tickvals=y_ticks, ticktext=[f"{v:g}" for v in y_ticks],
               showgrid=True, gridcolor="#1f2227", gridwidth=1, zeroline=False,
               showline=True, linecolor="#2a2d33", ticks="",
               tickfont=dict(family=FONT, size=12, color="#c8cace"), fixedrange=True),
)

fig.write_html(
    "out.html",
    config={"displayModeBar": False, "staticPlot": True},
    post_script="document.body.style.margin='0';document.body.style.overflow='hidden';"
                "document.body.style.background='" + BG + "';",
)
